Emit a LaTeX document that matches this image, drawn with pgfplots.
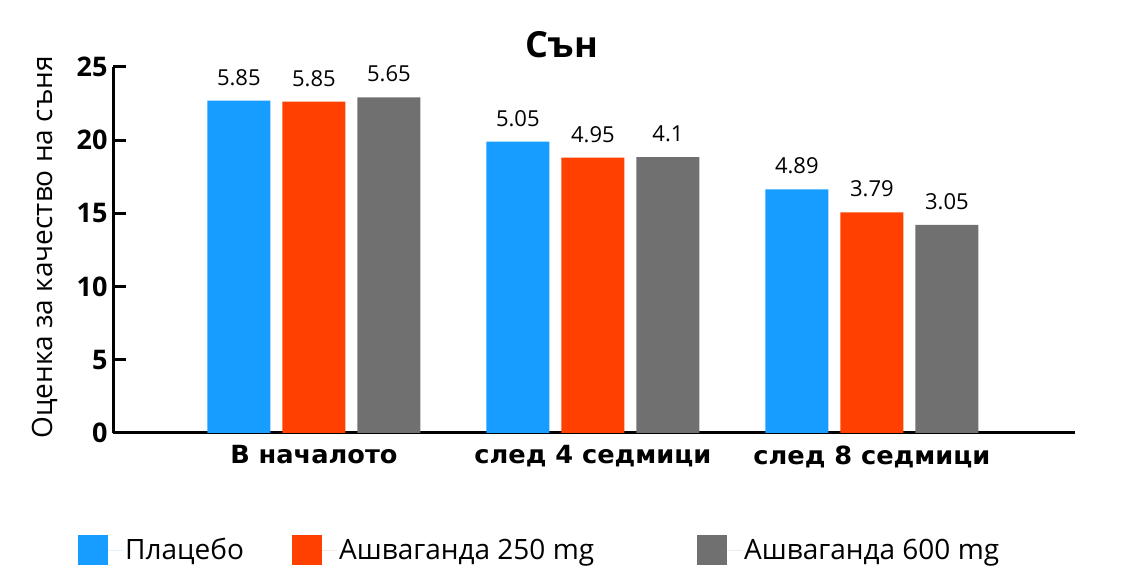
\documentclass[border=0pt]{standalone}
\usepackage{fontspec}
\setmainfont{Open Sans}
\newfontfamily\condfont[FakeStretch=1.14]{DejaVu Sans Condensed}
\usepackage{pgfplots}
\usepackage{pgfplotstable}
\pgfplotsset{compat=1.18}
\definecolor{cblue}{RGB}{23,156,255}
\definecolor{cred}{RGB}{255,64,0}
\definecolor{cgray}{RGB}{112,112,112}
\pgfplotstableread{
x y l
-0.269 22.70 5.85
0.731 19.90 5.05
1.731 16.64 4.89
}\tblue
\pgfplotstableread{
x y l
0 22.63 5.85
1 18.81 4.95
2 15.07 3.79
}\tred
\pgfplotstableread{
x y l
0.269 22.93 5.65
1.269 18.85 4.1
2.269 14.21 3.05
}\tgray
\begin{document}
\begin{tikzpicture}[x=1pt,y=1pt]
\useasboundingbox (0,0) rectangle (1124,588);
\begin{axis}[
  at={(113pt,155pt)}, anchor=south west,
  scale only axis, width=962pt, height=366pt,
  xmin=-0.72, xmax=2.728, ymin=0, ymax=25,
  axis x line=bottom, axis y line=left,
  axis line style={line width=3pt, -},
  ytick={0,5,...,25},
  ytick style={line width=3pt, black},
  tick align=inside, major tick length=13pt,
  xtick={0,1,2}, xticklabels={В началото, след 4 седмици, след 8 седмици},
  xtick style={draw=none},
  xticklabel style={font=\condfont\bfseries\fontsize{25}{30}\selectfont, yshift=-9pt},
  yticklabel style={font=\bfseries\fontsize{27}{32}\selectfont, xshift=-2pt},
  /pgf/number format/assume math mode=true,
  ylabel={Оценка за качество на съня},
  ylabel style={font=\fontsize{28}{32}\selectfont, at={(rel axis cs:-0.0707,0.507)}, anchor=center},
  title={Сън},
  title style={font=\bfseries\fontsize{36}{40}\selectfont, at={(rel axis cs:0.4667,1)}, anchor=center, yshift=16pt},
  point meta=explicit symbolic,
  nodes near coords,
  every node near coord/.append style={font=\fontsize{22}{26}\selectfont, inner sep=0pt, anchor=south, yshift=15pt, black},
  mybar/.style={ybar, bar width=0.226, bar shift=0pt, draw=none,
    legend image code/.code={\fill[##1] (0pt,-15pt) rectangle (30pt,15pt); \path (0pt,0pt) -- (45pt,0pt);}},
  legend columns=3,
  legend cell align=left,
  legend style={draw=none, fill=none, at={(rel axis cs:-0.0364,-0.3197)}, anchor=west,
    font=\fontsize{28}{32}\selectfont, inner sep=0pt},
]
\addplot[mybar, fill=cblue] table[x=x, y=y, meta=l] {\tblue};
\addlegendentry{\makebox[165pt][l]{Плацебо}}
\addplot[mybar, fill=cred] table[x=x, y=y, meta=l] {\tred};
\addlegendentry{\makebox[356pt][l]{Ашваганда 250 mg}}
\addplot[mybar, fill=cgray] table[x=x, y=y, meta=l] {\tgray};
\addlegendentry{Ашваганда 600 mg}
\end{axis}
\end{tikzpicture}
\end{document}
